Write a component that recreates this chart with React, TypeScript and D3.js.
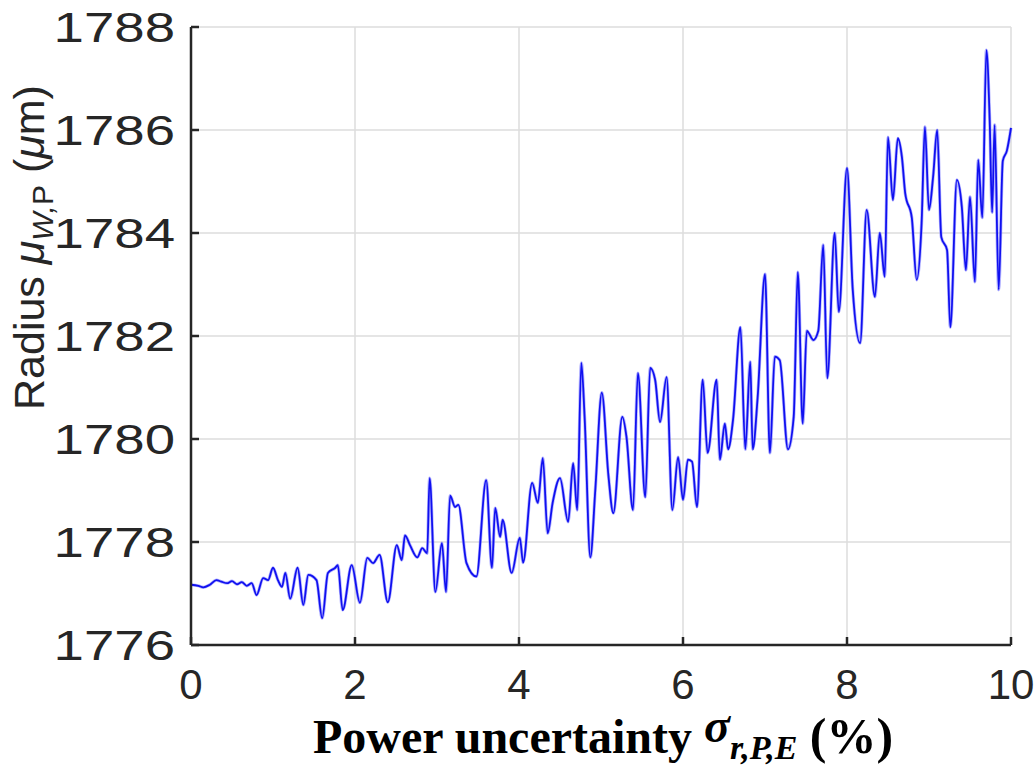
import React from "react";
import * as d3 from "d3";

const xValues: number[] = [
  0.0, 0.09, 0.15, 0.23, 0.31, 0.37, 0.44, 0.5, 0.56, 0.62, 0.68, 0.74, 0.8,
  0.88, 0.94, 1.0, 1.06, 1.11, 1.15, 1.21, 1.3, 1.37, 1.43, 1.53, 1.6, 1.67,
  1.76, 1.79, 1.85, 1.96, 2.06, 2.15, 2.22, 2.3, 2.4, 2.51, 2.57, 2.61, 2.67,
  2.76, 2.82, 2.88, 2.91, 2.98, 3.06, 3.11, 3.16, 3.22, 3.26, 3.36, 3.48, 3.6,
  3.67, 3.71, 3.77, 3.8, 3.91, 4.01, 4.05, 4.16, 4.23, 4.29, 4.35, 4.41, 4.5,
  4.6, 4.66, 4.71, 4.76, 4.8, 4.87, 4.93, 5.01, 5.09, 5.15, 5.26, 5.31, 5.39,
  5.45, 5.54, 5.6, 5.66, 5.72, 5.8, 5.87, 5.94, 6.0, 6.06, 6.11, 6.17, 6.24,
  6.3, 6.41, 6.45, 6.51, 6.55, 6.61, 6.7, 6.76, 6.82, 6.85, 6.91, 7.0, 7.06,
  7.12, 7.18, 7.28, 7.35, 7.4, 7.46, 7.51, 7.59, 7.65, 7.71, 7.76, 7.85, 7.9,
  8.0, 8.07, 8.16, 8.24, 8.34, 8.4, 8.46, 8.5, 8.56, 8.62, 8.67, 8.71, 8.79,
  8.85, 8.91, 8.95, 9.0, 9.05, 9.1, 9.15, 9.22, 9.26, 9.34, 9.4, 9.45, 9.5,
  9.56, 9.6, 9.65, 9.7, 9.74, 9.77, 9.8, 9.85, 9.9, 9.95, 10.0,
];

const radiusValues: number[] = [
  1777.17, 1777.15, 1777.12, 1777.17, 1777.26, 1777.23, 1777.2, 1777.24,
  1777.18, 1777.22, 1777.15, 1777.2, 1776.97, 1777.3, 1777.26, 1777.5, 1777.26,
  1777.13, 1777.4, 1776.9, 1777.5, 1776.78, 1777.36, 1777.26, 1776.52, 1777.4,
  1777.5, 1777.55, 1776.68, 1777.55, 1776.82, 1777.69, 1777.59, 1777.75,
  1776.83, 1777.94, 1777.65, 1778.13, 1777.94, 1777.7, 1777.88, 1777.78,
  1779.24, 1777.03, 1777.98, 1777.03, 1778.9, 1778.68, 1778.72, 1777.59,
  1777.33, 1779.2, 1777.5, 1778.66, 1778.1, 1778.43, 1777.4, 1778.08, 1777.6,
  1779.15, 1778.76, 1779.63, 1778.17, 1778.76, 1779.24, 1778.39, 1779.53,
  1778.62, 1781.48, 1780.43, 1777.7, 1779.0, 1780.9, 1779.3, 1778.56, 1780.43,
  1780.05, 1778.62, 1781.28, 1778.87, 1781.38, 1781.15, 1780.33, 1781.2,
  1778.62, 1779.65, 1778.82, 1779.6, 1779.56, 1778.68, 1781.15, 1779.73,
  1781.15, 1779.6, 1780.3, 1779.8, 1780.37, 1782.17, 1779.8, 1781.5, 1779.8,
  1780.8, 1783.2, 1779.73, 1781.6, 1781.53, 1779.8, 1780.43, 1783.24, 1780.3,
  1782.1, 1781.92, 1782.1, 1783.77, 1781.18, 1784.0, 1782.47, 1785.26, 1782.9,
  1781.86, 1784.45, 1782.76, 1784.0, 1783.15, 1785.86, 1784.64, 1785.84,
  1785.47, 1784.77, 1784.3, 1783.09, 1784.2, 1786.06, 1784.45, 1785.09, 1786.0,
  1783.92, 1783.67, 1782.17, 1785.03, 1784.51, 1783.28, 1784.7, 1783.05,
  1785.42, 1784.3, 1787.55, 1786.2, 1784.4, 1786.1, 1782.9, 1785.4, 1785.6,
  1786.04,
];

const xTicks: number[] = [0, 2, 4, 6, 8, 10];
const yTicks: number[] = [1776, 1778, 1780, 1782, 1784, 1786, 1788];

const W = 1035;
const H = 767;
const left = 191;
const right = 1011;
const top = 27;
const bottom = 645;

export default function App() {
  const x = d3.scaleLinear().domain([0, 10]).range([left, right]);
  const y = d3.scaleLinear().domain([1776, 1788]).range([bottom, top]);
  const pts: [number, number][] = xValues.map((v, i) => [v, radiusValues[i]]);
  const line = d3
    .line<[number, number]>()
    .x((d) => x(d[0]))
    .y((d) => y(d[1]))
    .curve(d3.curveMonotoneX);

  const sans = "'Liberation Sans', Arial, Helvetica, sans-serif";
  const serif = "'Liberation Serif', 'Times New Roman', serif";
  const axisColor = "#262626";
  const gridColor = "#dcdcdc";
  const tickLen = 8;

  return (
    <svg
      width={W}
      height={H}
      style={{ position: "absolute", left: 0, top: 0, background: "#fff" }}
    >
      {/* grid */}
      {xTicks.map((t) => (
        <line
          key={"gx" + t}
          x1={x(t)}
          x2={x(t)}
          y1={top}
          y2={bottom}
          stroke={gridColor}
          strokeWidth={1.5}
        />
      ))}
      {yTicks.map((t) => (
        <line
          key={"gy" + t}
          x1={left}
          x2={right}
          y1={y(t)}
          y2={y(t)}
          stroke={gridColor}
          strokeWidth={1.5}
        />
      ))}
      {/* data */}
      <path
        d={line(pts) || ""}
        fill="none"
        stroke="#8080ff"
        strokeOpacity={0.6}
        strokeWidth={3.2}
        strokeLinejoin="round"
      />
      <path
        d={line(pts) || ""}
        fill="none"
        stroke="#1010f0"
        strokeWidth={1.8}
        strokeLinejoin="round"
      />
      {/* axes */}
      <line x1={left} x2={left} y1={top} y2={bottom} stroke={axisColor} strokeWidth={2.5} />
      <line x1={left} x2={right} y1={bottom} y2={bottom} stroke={axisColor} strokeWidth={2.5} />
      {xTicks.map((t) => (
        <line
          key={"tx" + t}
          x1={x(t)}
          x2={x(t)}
          y1={bottom}
          y2={bottom - tickLen}
          stroke={axisColor}
          strokeWidth={2.5}
        />
      ))}
      {yTicks.map((t) => (
        <line
          key={"ty" + t}
          x1={left}
          x2={left + tickLen}
          y1={y(t)}
          y2={y(t)}
          stroke={axisColor}
          strokeWidth={2.5}
        />
      ))}
      {/* tick labels */}
      {xTicks.map((t) => (
        <text
          key={"lx" + t}
          x={x(t)}
          y={699}
          textAnchor="middle"
          fontFamily={sans}
          fontSize={42}
          fill="#262626"
        >
          {t}
        </text>
      ))}
      {yTicks.map((t) => (
        <text
          key={"ly" + t}
          transform={`translate(175,${y(t) + 15}) scale(1.3,1)`}
          textAnchor="end"
          fontFamily={sans}
          fontSize={42}
          fill="#262626"
        >
          {t}
        </text>
      ))}
      {/* y label */}
      <text
        transform={`translate(44,410) rotate(-90)`}
        fontFamily={sans}
        fontSize={43}
        fill="#262626"
      >
        Radius{" "}
        <tspan fontStyle="italic">μ</tspan>
        <tspan fontSize={30} dy={9} fontStyle="italic">W,</tspan>
        <tspan fontSize={30}>P</tspan>
        <tspan dy={-9}> (</tspan>
        <tspan fontStyle="italic">μ</tspan>
        <tspan>m)</tspan>
      </text>
      {/* x label */}
      <text x={313} y={753} fontFamily={serif} fontWeight="bold" fontSize={48} fill="#000">
        Power uncertainty{" "}
        <tspan fontStyle="italic" dy={-11}>σ</tspan>
        <tspan fontStyle="italic" fontSize={34} dy={17}>r,P,E</tspan>
        <tspan dy={-6} fontSize={50}> (%)</tspan>
      </text>
    </svg>
  );
}
